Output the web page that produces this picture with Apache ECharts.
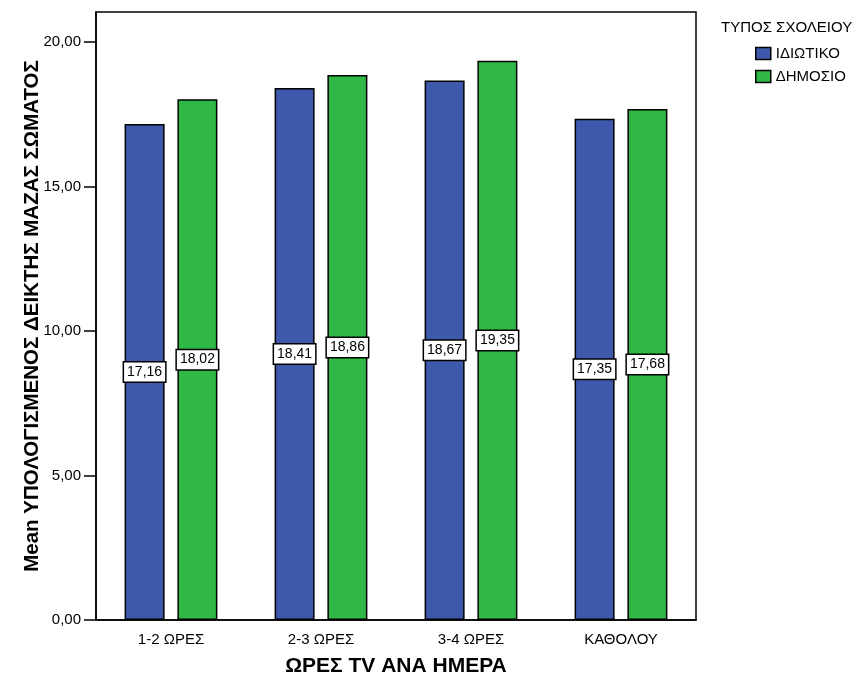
<!DOCTYPE html>
<html>
<head>
<meta charset="utf-8">
<script src="https://cdn.jsdelivr.net/npm/echarts@6/dist/echarts.min.js"></script>
<style>
html,body{margin:0;padding:0;background:#fff;}
#chart{width:859px;height:677px;}
</style>
</head>
<body>
<div id="chart"></div>
<script>
// Mean BMI by daily TV hours, split by school type
const categories = ['1-2 ΩΡΕΣ', '2-3 ΩΡΕΣ', '3-4 ΩΡΕΣ', 'ΚΑΘΟΛΟΥ'];
const privateSchool = [17.16, 18.41, 18.67, 17.35];
const publicSchool = [18.02, 18.86, 19.35, 17.68];
const seriesNames = ['ΙΔΙΩΤΙΚΟ', 'ΔΗΜΟΣΙΟ'];
const yTicks = [0, 5, 10, 15, 20];

const fontFamily = 'Liberation Sans, Arial, sans-serif';
const fmt = v => v.toFixed(2).replace('.', ',');

const labelStyle = {
  show: true,
  position: 'inside',
  formatter: p => fmt(p.value),
  color: '#000',
  fontFamily: fontFamily,
  fontSize: 14,
  backgroundColor: '#fff',
  borderColor: '#000',
  borderWidth: 1.5,
  padding: [3, 3, 2, 3]
};

const chart = echarts.init(document.getElementById('chart'), null, {renderer: 'canvas'});
chart.setOption({
  animation: false,
  backgroundColor: '#fff',
  textStyle: {fontFamily: fontFamily},
  grid: {
    left: 96, top: 12, width: 600, height: 608,
    show: true, borderColor: '#000', borderWidth: 1.5,
    containLabel: false,
    outerBoundsMode: 'none'
  },
  legend: {
    orient: 'vertical',
    left: 750, top: 41,
    itemWidth: 15, itemHeight: 12,
    itemGap: 8,
    icon: 'rect',
    textStyle: {fontFamily: fontFamily, fontSize: 15, color: '#000'},
    data: seriesNames.map(n => ({name: n, itemStyle: {borderColor: '#000', borderWidth: 1.5}}))
  },
  graphic: [{
    type: 'text', left: 721, top: 20,
    style: {text: 'ΤΥΠΟΣ ΣΧΟΛΕΙΟΥ', font: '15px ' + fontFamily, fill: '#000'}
  }],
  xAxis: {
    type: 'category',
    data: categories,
    name: 'ΩΡΕΣ TV ΑΝΑ ΗΜΕΡΑ',
    nameLocation: 'middle',
    nameGap: 36,
    nameTextStyle: {fontFamily: fontFamily, fontSize: 21, fontWeight: 'bold', color: '#000'},
    axisLine: {lineStyle: {color: '#000', width: 1.5}},
    axisTick: {alignWithLabel: true, length: 10, lineStyle: {color: '#000', width: 1.5}},
    axisLabel: {color: '#000', fontSize: 15, margin: 12, fontFamily: fontFamily}
  },
  yAxis: {
    type: 'value',
    min: 0,
    max: 21.04,
    interval: 5,
    name: 'Mean ΥΠΟΛΟΓΙΣΜΕΝΟΣ ΔΕΙΚΤΗΣ ΜΑΖΑΣ ΣΩΜΑΤΟΣ',
    nameLocation: 'middle',
    nameGap: 53,
    nameMoveOverlap: false,
    nameTextStyle: {fontFamily: fontFamily, fontSize: 20.5, fontWeight: 'bold', color: '#000'},
    splitLine: {show: false},
    axisLine: {show: true, lineStyle: {color: '#000', width: 1.5}},
    axisTick: {show: true, length: 12, customValues: yTicks, lineStyle: {color: '#000', width: 1.5}},
    axisLabel: {
      color: '#000', fontSize: 15, margin: 15, fontFamily: fontFamily,
      customValues: yTicks,
      formatter: v => fmt(v)
    }
  },
  series: [
    {
      name: seriesNames[0], type: 'bar', data: privateSchool,
      barWidth: 40, barGap: '32%',
      itemStyle: {color: '#3e58ac', borderColor: '#000', borderWidth: 1.5},
      label: labelStyle
    },
    {
      name: seriesNames[1], type: 'bar', data: publicSchool,
      barWidth: 40,
      itemStyle: {color: '#2fb845', borderColor: '#000', borderWidth: 1.5},
      label: labelStyle
    }
  ]
});
</script>
</body>
</html>
